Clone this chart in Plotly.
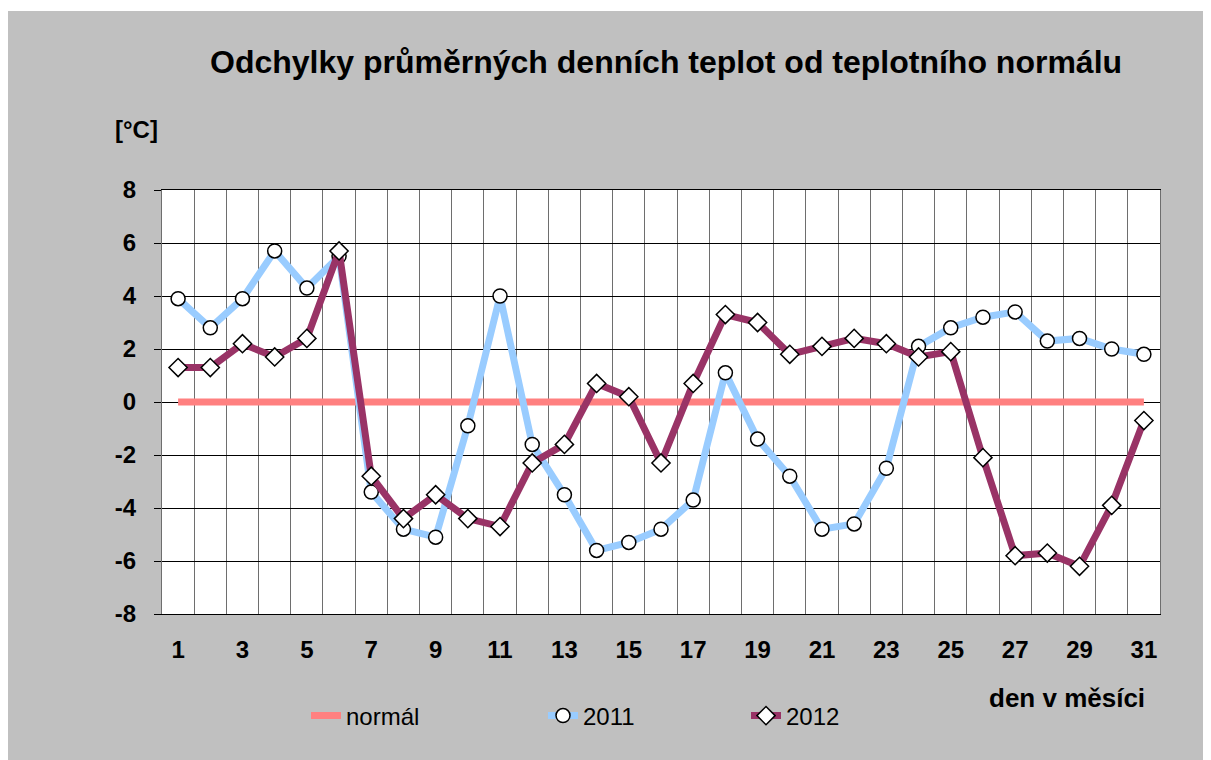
import plotly.graph_objects as go

days = list(range(1, 32))

normal = [0] * 31

t2011 = [3.9, 2.8, 3.9, 5.7, 4.3, 5.5, -3.4, -4.8, -5.1, -0.9,
         4.0, -1.6, -3.5, -5.6, -5.3, -4.8, -3.7, 1.1, -1.4, -2.8,
         -4.8, -4.6, -2.5, 2.1, 2.8, 3.2, 3.4, 2.3, 2.4, 2.0, 1.8]

t2012 = [1.3, 1.3, 2.2, 1.7, 2.4, 5.7, -2.8, -4.4, -3.5, -4.4,
         -4.7, -2.3, -1.6, 0.7, 0.2, -2.3, 0.7, 3.3, 3.0, 1.8,
         2.1, 2.4, 2.2, 1.7, 1.9, -2.1, -5.8, -5.7, -6.2, -3.9, -0.7]

y_ticks = [-8, -6, -4, -2, 0, 2, 4, 6, 8]
y_labels = ['-8', '-6', '-4', '-2', '0', '2', '4', '6', '8']

font = 'Liberation Sans, Arial, sans-serif'
gray = '#C0C0C0'


# page body has an 8px margin, positions below are measured on the screen
def px(x):
    return (x - 162) / 998


def py(y):
    return (614 - y) / 424


fig = go.Figure()

fig.add_trace(go.Scatter(
    x=days, y=normal, mode='lines', name='normál',
    line=dict(color='#FF8080', width=7), legend='legend'))

fig.add_trace(go.Scatter(
    x=days, y=t2011, mode='lines+markers', name='2011',
    line=dict(color='#99CCFF', width=7),
    marker=dict(symbol='circle', size=14, color='white',
                line=dict(color='black', width=1.5)),
    legend='legend2'))

fig.add_trace(go.Scatter(
    x=days, y=t2012, mode='lines+markers', name='2012',
    line=dict(color='#993366', width=7),
    marker=dict(symbol='diamond', size=14, color='white',
                line=dict(color='black', width=1.5)),
    legend='legend3'))

leg = dict(orientation='h', yanchor='middle', y=py(716), xanchor='left',
           bgcolor='rgba(0,0,0,0)', font=dict(family=font, size=24, color='black'))

fig.update_layout(
    width=1211, height=760,
    margin=dict(l=154, r=59, t=182, b=154),
    paper_bgcolor=gray,
    plot_bgcolor='white',
    showlegend=True,
    legend=dict(leg, x=px(306)),
    legend2=dict(leg, x=px(543)),
    legend3=dict(leg, x=px(746)),
    xaxis=dict(
        range=[0.5, 31.5], tickmode='linear', tick0=1, dtick=2,
        showgrid=False, zeroline=False,
        showline=True, linecolor='black', mirror=True,
        ticks='', ticklabelstandoff=14,
        tickfont=dict(family=font, size=24, color='black', weight='bold'),
        minor=dict(tickmode='linear', tick0=0.5, dtick=1, showgrid=True,
                   gridcolor='#6E6E6E', gridwidth=1, ticks=''),
    ),
    yaxis=dict(
        range=[-8, 8], tickmode='array', tickvals=y_ticks, ticktext=y_labels,
        showgrid=True, gridcolor='black', gridwidth=1, zeroline=False,
        showline=True, linecolor='#6E6E6E', mirror=True,
        ticks='outside', ticklen=7, tickcolor='black',
        ticklabelstandoff=13,
        tickfont=dict(family=font, size=24, color='black', weight='bold'),
    ),
    annotations=[
        dict(text='<b>Odchylky průměrných denních teplot od teplotního normálu</b>',
             xref='paper', yref='paper', x=px(666), y=py(62),
             xanchor='center', yanchor='middle', showarrow=False,
             font=dict(family=font, size=32, color='black')),
        dict(text='<b>[°C]</b>', xref='paper', yref='paper',
             x=px(113), y=py(130),
             xanchor='left', yanchor='middle', showarrow=False,
             font=dict(family=font, size=24, color='black')),
        dict(text='<b>den v měsíci</b>', xref='paper', yref='paper',
             x=px(1147), y=py(698),
             xanchor='right', yanchor='middle', showarrow=False,
             font=dict(family=font, size=26, color='black')),
    ],
    shapes=[
        dict(type='rect', xref='paper', yref='paper', layer='below',
             x0=-0.2, x1=1.1, y0=py(11), y1=1.5,
             fillcolor='white', line=dict(width=0)),
    ],
)

fig.write_html('out.html')
